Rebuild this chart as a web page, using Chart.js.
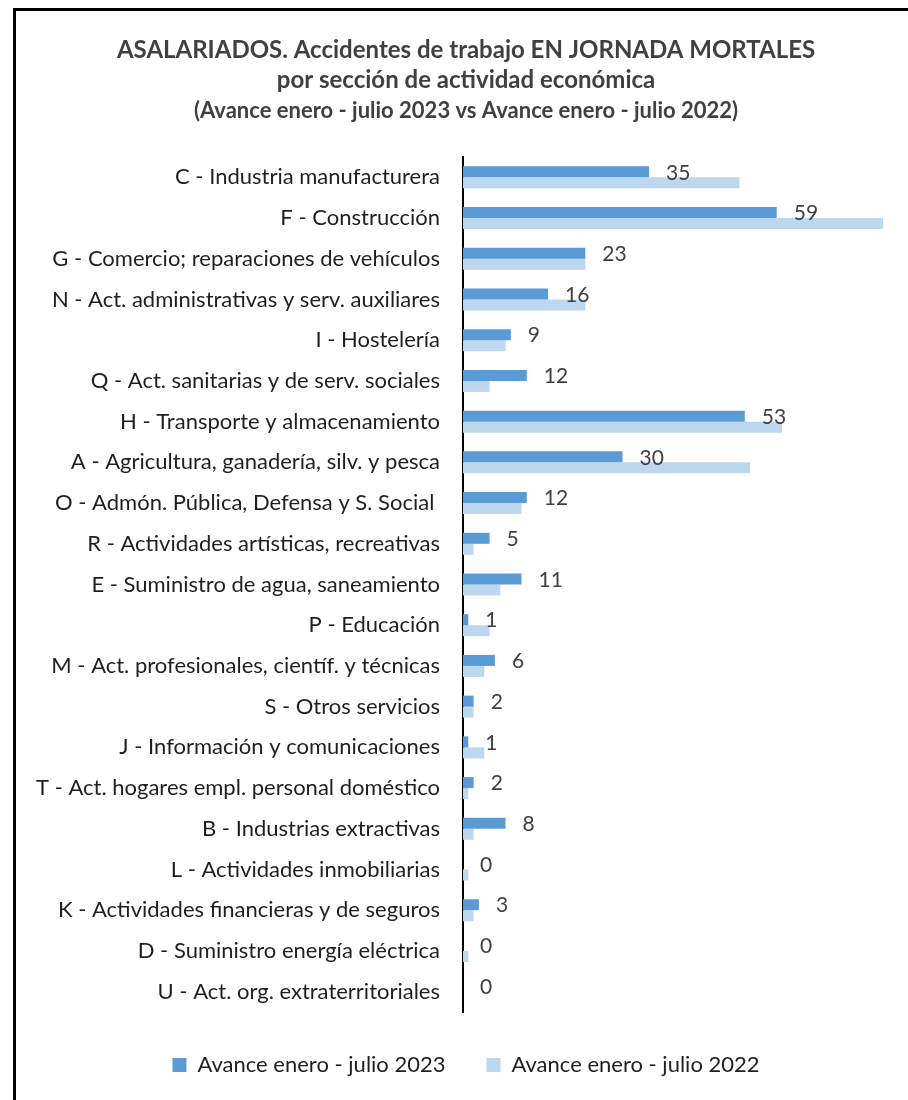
<!DOCTYPE html>
<html>
<head>
<meta charset="utf-8">
<script src="https://cdn.jsdelivr.net/npm/chart.js@4"></script>
<style>
    body { margin: 0; background: #fff; overflow: hidden; width: 908px; height: 1100px; }
    #frame {
        position: absolute; left: 13px; top: 8px; width: 1000px; height: 1200px;
        border-left: 3px solid #000; border-top: 3px solid #000;
    }
    #wrap { position: absolute; left: 16px; top: 11px; width: 900px; height: 1075px; }
</style>
</head>
<body>
<div id="frame"></div>
<div id="wrap"><canvas id="chart"></canvas></div>
<script>
const categories = [
    'C - Industria manufacturera',
    'F - Construcción',
    'G - Comercio; reparaciones de vehículos',
    'N - Act. administrativas y serv. auxiliares',
    'I - Hostelería',
    'Q - Act. sanitarias y de serv. sociales',
    'H - Transporte y almacenamiento',
    'A - Agricultura, ganadería, silv. y pesca',
    'O - Admón. Pública, Defensa y S. Social ',
    'R - Actividades artísticas, recreativas',
    'E - Suministro de agua, saneamiento',
    'P - Educación',
    'M - Act. profesionales, científ. y técnicas',
    'S - Otros servicios',
    'J - Información y comunicaciones',
    'T - Act. hogares empl. personal doméstico',
    'B - Industrias extractivas',
    'L - Actividades inmobiliarias',
    'K - Actividades financieras y de seguros',
    'D - Suministro energía eléctrica',
    'U - Act. org. extraterritoriales'
];
const values2023 = [35, 59, 23, 16, 9, 12, 53, 30, 12, 5, 11, 1, 6, 2, 1, 2, 8, 0, 3, 0, 0];
const values2022 = [52, 79, 23, 23, 8, 5, 60, 54, 11, 2, 7, 5, 4, 2, 4, 1, 2, 1, 2, 1, 0];
const seriesNames = ['Avance enero - julio 2023', 'Avance enero - julio 2022'];

const FONT = 'Lato, "Open Sans", sans-serif';

// etiquetas de valor solo para 2023
const valueLabels = {
    id: 'valueLabels',
    afterDatasetsDraw(chart) {
        const ctx = chart.ctx;
        const meta = chart.getDatasetMeta(0);
        ctx.save();
        ctx.font = '21px ' + FONT;
        ctx.fillStyle = '#404040';
        ctx.textAlign = 'left';
        ctx.textBaseline = 'middle';
        meta.data.forEach((bar, i) => {
            ctx.fillText(String(values2023[i]), bar.x + 17, bar.y + 1);
        });
        ctx.restore();
    }
};

new Chart(document.getElementById('chart'), {
    type: 'bar',
    data: {
        labels: categories,
        datasets: [
            { label: seriesNames[0], data: values2023, backgroundColor: '#5b9bd5' },
            { label: seriesNames[1], data: values2022, backgroundColor: '#bdd7ee' }
        ]
    },
    options: {
        indexAxis: 'y',
        responsive: true,
        maintainAspectRatio: false,
        animation: false,
        datasets: { bar: { categoryPercentage: 0.54, barPercentage: 1.0 } },
        layout: { padding: 0 },
        scales: {
            x: {
                min: 0,
                max: 85.2,
                ticks: { display: false },
                grid: { display: false, drawTicks: false },
                border: { display: false },
                afterFit(scale) { scale.height = 1; }
            },
            y: {
                grid: { display: false, drawTicks: false },
                border: { display: true, color: '#000', width: 2 },
                ticks: {
                    color: '#1f1f1f',
                    padding: 23,
                    font: { family: FONT, size: 22 }
                },
                afterFit(scale) { scale.width = 447; }
            }
        },
        plugins: {
            title: {
                display: true,
                text: ['ASALARIADOS. Accidentes de trabajo EN JORNADA MORTALES', 'por sección de actividad económica'],
                color: '#404040',
                font: { family: FONT, size: 24, weight: 'bold', lineHeight: 1.25 },
                padding: { top: 24, bottom: 2 }
            },
            subtitle: {
                display: true,
                text: '(Avance enero - julio 2023 vs Avance enero - julio 2022)',
                color: '#404040',
                font: { family: FONT, size: 22, weight: 'bold', lineHeight: 1.25 },
                padding: { top: 0, bottom: 32.5 }
            },
            legend: {
                position: 'bottom',
                labels: {
                    boxWidth: 14,
                    boxHeight: 14,
                    padding: 41,
                    color: '#1f1f1f',
                    font: { family: FONT, size: 22 }
                }
            },
            tooltip: { enabled: false }
        }
    },
    plugins: [valueLabels]
});
</script>
</body>
</html>
